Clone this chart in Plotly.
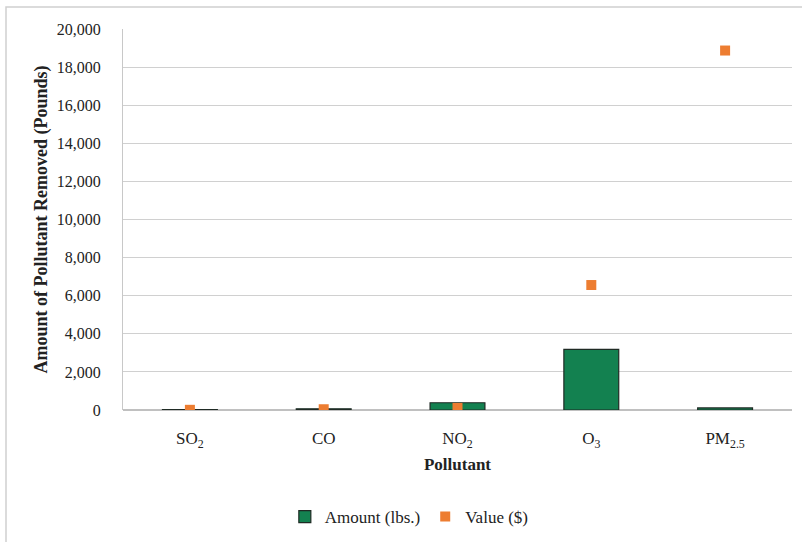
import plotly.graph_objects as go

# Air pollutant removal by urban trees
pollutants = ["SO<sub>2</sub>", "CO", "NO<sub>2</sub>", "O<sub>3</sub>", "PM<sub>2.5</sub>"]
amount_lbs = [20, 60, 380, 3180, 110]
value_usd = [10, 40, 110, 6560, 18870]

FONT = "Liberation Serif"
GREEN = "#138150"
ORANGE = "#ED7D31"

fig = go.Figure()
fig.add_trace(go.Bar(
    x=pollutants, y=amount_lbs, name="Amount (lbs.)",
    marker=dict(color=GREEN, line=dict(color="#1f2a24", width=1.2)),
    width=0.41,
))
fig.add_trace(go.Scatter(
    x=pollutants, y=value_usd, name="Value ($)", mode="markers",
    marker=dict(symbol="square", size=10, color=ORANGE),
))

W, H = 802, 542
L, R, T, B = 123, 10, 29, 132
pw, ph = W - L - R, H - T - B

def px(x):
    return (x - L) / pw

def py(y):
    return (H - B - y) / ph

# outer chart frame (only its top and left edges fall inside the page)
fig.add_shape(type="rect", xref="paper", yref="paper",
              x0=px(6), x1=px(820), y0=py(7), y1=py(560),
              line=dict(color="#d0d0d0", width=1.5), layer="below")

fig.update_layout(
    width=W, height=H,
    margin=dict(l=L, r=R, t=T, b=B, autoexpand=False),
    plot_bgcolor="white", paper_bgcolor="white",
    font=dict(family=FONT, size=16, color="#222"),
    bargap=0.59,
    showlegend=True,
    legend=dict(orientation="h", x=0.428, xanchor="center", y=py(517), yanchor="middle",
                font=dict(size=17), itemwidth=30, traceorder="normal"),
    xaxis=dict(
        title=dict(text="<b>Pollutant</b>", font=dict(size=17), standoff=8),
        showgrid=False, showline=False, ticks="", tickfont=dict(size=17),
        ticklabelstandoff=16, automargin=False,
    ),
    yaxis=dict(
        title=dict(text="<b>Amount of Pollutant Removed (Pounds)</b>", font=dict(size=18), standoff=4),
        range=[0, 20000], dtick=2000, tickformat=",d",
        showgrid=True, gridcolor="#d0d0d0", gridwidth=1,
        showline=True, linecolor="#c8c8c8", linewidth=1,
        zeroline=True, zerolinecolor="#c0c0c0", zerolinewidth=1.5,
        ticks="", tickfont=dict(size=16), ticklabelstandoff=18, automargin=False,
    ),
)

fig.write_html("out.html")
